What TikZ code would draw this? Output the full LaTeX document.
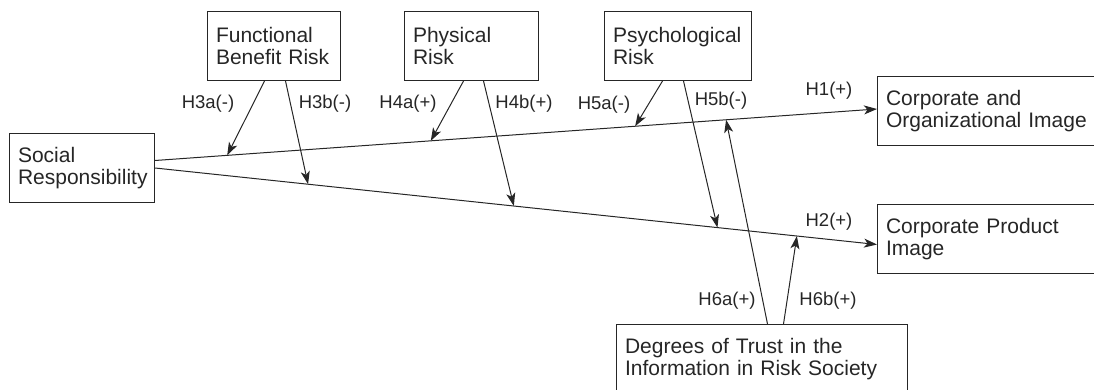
\documentclass[tikz,border=0pt]{standalone}
\usepackage{fontspec}
\setmainfont{Liberation Sans}
\usetikzlibrary{arrows.meta, positioning}

\begin{document}
\begin{tikzpicture}[
    x=1pt, y=-1pt,
    box/.style={rectangle, draw=black!85, line width=1pt, text=black!85, align=left, inner xsep=8.5pt, minimum height=69pt, font=\fontsize{21}{21.5}\selectfont},
    hyp/.style={text=black!85, inner sep=0pt, font=\fontsize{18.5}{20}\selectfont},
    line/.style={draw=black!85, line width=1pt, -{Stealth[length=13pt, width=9pt, inset=3.5pt]}},
    node distance=60pt
]
\useasboundingbox (0,0) rectangle (1094,390);
\clip (0,0) rectangle (1094,390);

% Constructs
\node[box, text width=116pt, anchor=north west] (fbr) at (207,11) {Functional\\Benefit Risk};
\node[box, text width=117pt, right=63pt of fbr] (phr) {Physical\\Risk};
\node[box, text width=130pt, right=65pt of phr] (psr) {Psychological\\Risk};
\node[box, text width=128pt, anchor=north west] (sr) at (9,133) {Social\\Responsibility};
\node[box, text width=223pt, anchor=north west] (coi) at (877,76) {Corporate and\\Organizational Image};
\node[box, text width=223pt, below=58pt of coi] (cpi) {Corporate Product\\Image};
\node[box, text width=274pt, anchor=north west] (trust) at (616,324) {Degrees of Trust in the\\Information in Risk Society};

% Main effects
\draw[line] ([yshift=7.5pt]sr.east) -- coordinate[pos=0.10] (m3a) coordinate[pos=0.382] (m4a)
    coordinate[pos=0.665] (m5a) coordinate[pos=0.791] (m6a) ([yshift=2pt]coi.west);
\draw[line] (sr.east) -- coordinate[pos=0.212] (m3b) coordinate[pos=0.497] (m4b)
    coordinate[pos=0.779] (m5b) coordinate[pos=0.889] (m6b) ([yshift=-5.5pt]cpi.west);

% Moderators
\draw[line] ([xshift=-9.5pt]fbr.south) -- (m3a);
\draw[line] ([xshift=11.5pt]fbr.south) -- (m3b);
\draw[line] ([xshift=-8pt]phr.south) -- (m4a);
\draw[line] ([xshift=12pt]phr.south) -- (m4b);
\draw[line] ([xshift=-15.5pt]psr.south) -- (m5a);
\draw[line] ([xshift=5.5pt]psr.south) -- (m5b);
\draw[line] ([xshift=5.5pt]trust.north) -- (m6a);
\draw[line] ([xshift=21.5pt]trust.north) -- (m6b);

% Hypothesis labels
\node[hyp] (h1) at (829,91) {H1(+)};
\node[hyp] (h2) at (829,222) {H2(+)};
\node[hyp] (h3a) at (208,104) {H3a(-)};
\node[hyp] (h3b) at (325,104) {H3b(-)};
\node[hyp] (h4a) at (408,104) {H4a(+)};
\node[hyp] (h4b) at (524,104) {H4b(+)};
\node[hyp] (h5a) at (604,105) {H5a(-)};
\node[hyp] (h5b) at (721,101) {H5b(-)};
\node[hyp] (h6a) at (727,301) {H6a(+)};
\node[hyp] (h6b) at (828,301) {H6b(+)};

\end{tikzpicture}
\end{document}
